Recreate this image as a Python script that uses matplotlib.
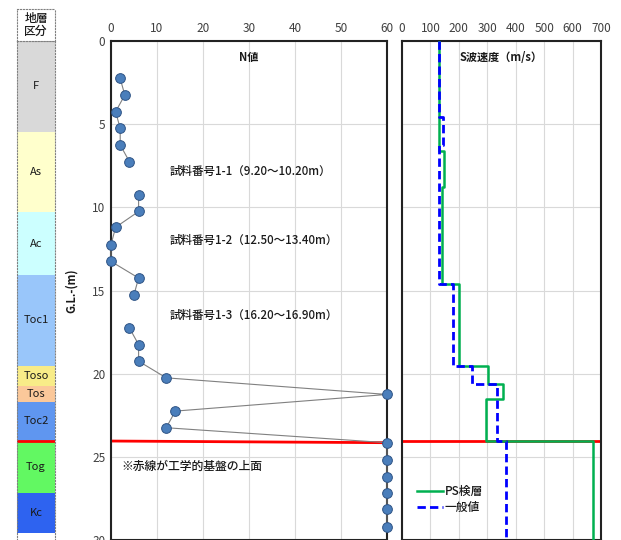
import numpy as np
import matplotlib
matplotlib.use("Agg")
import matplotlib.pyplot as plt

plt.rcParams['font.family'] = ['Noto Sans CJK JP', 'DejaVu Sans']

# N value (SPT) by depth; NaN = sampling depth (no blow count)
n_depth = [2.25, 3.25, 4.25, 5.25, 6.25, 7.25, 8.25, 9.25, 10.25, 11.2,
           12.25, 13.25, 14.25, 15.25, 16.25, 17.25, 18.25, 19.25, 20.25,
           21.25, 22.25, 23.25, 24.15, 25.2, 26.2, 27.2, 28.15, 29.2]
n_value = [2, 3, 1, 2, 2, 4, np.nan, 6, 6, 1,
           0, 0, 6, 5, np.nan, 4, 6, 6, 12,
           60, 14, 12, 60, 60, 60, 60, 60, 60]

# S-wave velocity profiles (layer boundaries and velocities)
ps_bounds = [0, 6.6, 8.8, 14.6, 19.55, 20.6, 21.5, 24.05, 30]
ps_vs = [130, 149, 141, 200, 304, 357, 294, 671]
gen_bounds = [0, 4.55, 6.25, 14.6, 19.55, 20.6, 24.05, 30]
gen_vs = [130, 143, 130, 181, 245, 335, 365]

# strata column
strata_names = ['F', 'As', 'Ac', 'Toc1', 'Toso', 'Tos', 'Toc2', 'Tog', 'Kc']
strata_top = [0, 5.45, 10.3, 14.05, 19.55, 20.75, 21.7, 24.05, 27.15]
strata_bottom = [5.45, 10.3, 14.05, 19.55, 20.75, 21.7, 24.05, 27.15, 29.6]
strata_colors = ['#d9d9d9', '#ffffcc', '#ccffff', '#99c6fa', '#f8ec88',
                 '#fbc89a', '#5f96f0', '#62f862', '#2e63f0']

base_depth = 24.05  # top of engineering bedrock

samples = [(7.85, '試料番号1-1（9.20～10.20m）'),
           (12.0, '試料番号1-2（12.50～13.40m）'),
           (16.5, '試料番号1-3（16.20～16.90m）')]


def step_xy(bounds, vals):
    xs, ys = [], []
    for i, v in enumerate(vals):
        xs += [v, v]
        ys += [bounds[i], bounds[i + 1]]
    return xs, ys


W, H = 621, 540
fig = plt.figure(figsize=(W / 100, H / 100), dpi=100)

top_px, bot_px = 41, 540


def rect(x0, x1, y0=top_px, y1=bot_px):
    return [x0 / W, 1 - y1 / H, (x1 - x0) / W, (y1 - y0) / H]


tick_color = '#404040'
grid_color = '#d9d9d9'
txt_color = '#1a1a1a'

# ---- strata column ----
axs = fig.add_axes(rect(17, 55))
for name, t, b, c in zip(strata_names, strata_top, strata_bottom, strata_colors):
    axs.bar(0.5, b - t, bottom=t, width=1, color=c, edgecolor='none')
    axs.text(0.5, (t + b) / 2, name, ha='center', va='center', fontsize=8,
             color=txt_color)
axs.plot([0, 1], [base_depth, base_depth], color='red', lw=2)
axs.set_xlim(0, 1)
axs.set_ylim(30, 0)
axs.set_xticks([])
axs.set_yticks([])
for s in axs.spines.values():
    s.set_linestyle(':')
    s.set_color('#808080')
    s.set_linewidth(0.8)
axs.spines['bottom'].set_visible(False)

axh = fig.add_axes(rect(17, 55, 9, 41))
axh.text(0.5, 0.5, '地層\n区分', ha='center', va='center', fontsize=8.5,
         linespacing=1.05, color=txt_color, fontweight='medium')
axh.set_xticks([])
axh.set_yticks([])
for s in axh.spines.values():
    s.set_linestyle(':')
    s.set_color('#808080')
    s.set_linewidth(0.8)

# ---- N value ----
axn = fig.add_axes(rect(111, 387))
axn.plot(n_value, n_depth, color='#808080', lw=0.8, marker='o', ms=7,
         mfc='#4a7ebb', mec='#2f5485', mew=0.7, zorder=3, clip_on=False)
axn.plot([0, 60], [base_depth, base_depth + 0.1], color='red', lw=2, zorder=2)
axn.set_xlim(0, 60)
axn.set_ylim(30, 0)
axn.set_xticks(range(0, 61, 10))
axn.set_yticks(range(0, 31, 5))
axn.xaxis.tick_top()
axn.tick_params(length=0, labelsize=8.5, labelcolor=tick_color, pad=4)
axn.grid(True, color=grid_color, lw=0.8)
axn.set_axisbelow(True)
axn.set_ylabel('G.L.-(m)', fontsize=8, fontweight='bold', labelpad=10,
               color=txt_color)
for s in axn.spines.values():
    s.set_linewidth(1.5)
    s.set_color('#222222')
axn.text(30, 1.0, 'N値', ha='center', va='center', fontsize=8,
         fontweight='bold', color=txt_color)
for d, txt in samples:
    axn.text(12.8, d, txt, ha='left', va='center', fontsize=8.3,
             color=txt_color, fontweight='medium')
axn.text(2.2, 25.55, '※赤線が工学的基盤の上面', ha='left', va='center',
         fontsize=8.5, color=txt_color, fontweight='medium')

# ---- S-wave velocity ----
axv = fig.add_axes(rect(402, 601))
x, y = step_xy(ps_bounds, ps_vs)
axv.plot(x, y, color='#00b050', lw=1.8, label='PS検層', zorder=3)
x, y = step_xy(gen_bounds, gen_vs)
axv.plot(x, y, color='#0000ff', lw=2, dashes=(3, 1.5), label='一般値', zorder=4)
axv.plot([0, 700], [base_depth, base_depth], color='red', lw=2, zorder=2)
axv.set_xlim(0, 700)
axv.set_ylim(30, 0)
axv.set_xticks(range(0, 701, 100))
axv.set_yticks(range(0, 31, 5))
axv.set_yticklabels([])
axv.xaxis.tick_top()
axv.tick_params(length=0, labelsize=8.5, labelcolor=tick_color, pad=4)
axv.grid(True, color=grid_color, lw=0.8)
axv.set_axisbelow(True)
for s in axv.spines.values():
    s.set_linewidth(1.5)
    s.set_color('#222222')
axv.text(350, 1.0, 'S波速度（m/s）', ha='center', va='center', fontsize=8,
         fontweight='bold', color=txt_color)
leg = axv.legend(loc='lower left', bbox_to_anchor=(0.02, 0.03), frameon=False,
                 fontsize=8.5, handlelength=2.2, handletextpad=0.2,
                 labelspacing=0.3)
for t in leg.get_texts():
    t.set_fontweight('medium')
    t.set_color(txt_color)

fig.savefig('out.png', dpi=100)
